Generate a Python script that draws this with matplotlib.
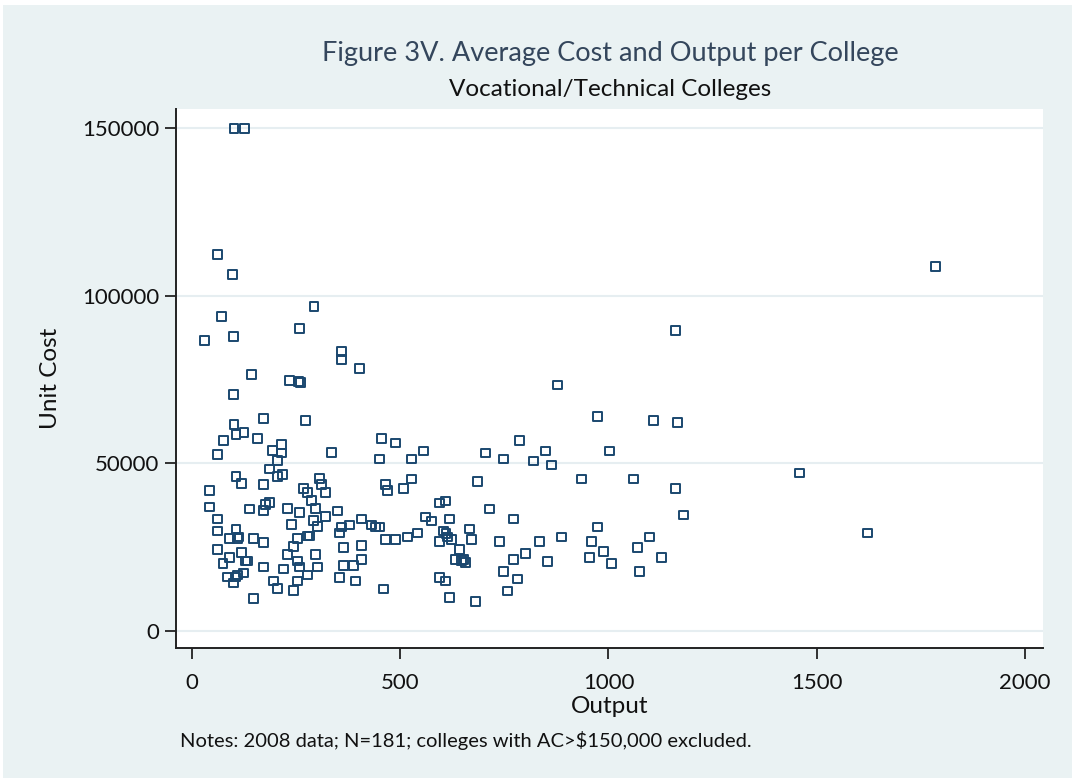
import matplotlib
matplotlib.use("Agg")
import matplotlib.pyplot as plt
from matplotlib.patches import Rectangle

plt.rcParams['font.family'] = ['Lato', 'DejaVu Sans']

# Output (x) and Unit Cost (y) per college
output = [101, 127, 62, 98, 293, 72, 259, 31, 100, 359, 359, 402, 143, 235, 256, 260, 100,
          172, 273, 101, 106, 125, 76, 158, 215, 193, 215, 62, 335, 206, 186, 206, 217, 106,
          119, 172, 42, 42, 62, 62, 62, 75, 90, 106, 90, 110, 113, 138, 172, 177, 186, 230,
          259, 239, 307, 311, 321, 268, 278, 287, 297, 321, 292, 302, 148, 172, 119, 129,
          134, 86, 105, 110, 124, 100, 172, 196, 206, 148, 220, 230, 244, 254, 278, 283,
          254, 259, 278, 297, 302, 254, 244, 350, 359, 378, 354, 364, 354, 364, 388, 393,
          407, 407, 407, 431, 441, 450, 460, 465, 489, 518, 542, 561, 575, 455, 489, 450,
          527, 556, 465, 470, 508, 527, 595, 609, 619, 604, 614, 623, 595, 633, 642, 595,
          609, 619, 787, 705, 748, 849, 820, 863, 935, 686, 714, 772, 666, 671, 738, 834,
          887, 652, 657, 772, 801, 854, 748, 782, 758, 681, 974, 1108, 1166, 1002, 1060,
          1161, 1180, 974, 959, 988, 954, 1007, 1099, 1070, 1127, 1075, 1161, 878, 1785,
          1459, 1622, 610, 648]
unit_cost = [150000, 150000, 112400, 106400, 96800, 93900, 90300, 86700, 87800, 83400, 81000,
             78300, 76500, 74600, 74400, 74100, 70500, 63300, 62800, 61600, 58600, 59200,
             56800, 57400, 55600, 53800, 53100, 52600, 53200, 50800, 48300, 46000, 46600,
             46100, 44100, 43700, 41800, 37000, 33400, 29800, 24400, 20200, 22000, 30400,
             27500, 27500, 28000, 36400, 35900, 37700, 38300, 36500, 35300, 31700, 45400,
             43600, 41200, 42400, 41200, 38900, 36500, 34100, 32900, 31100, 27500, 26300,
             23300, 20900, 20900, 16100, 16100, 16700, 17300, 14300, 19100, 14900, 12600,
             9600, 18500, 22700, 25100, 27700, 28300, 28300, 20900, 19100, 16700, 22700,
             19100, 14900, 12000, 35800, 31000, 31600, 29200, 25000, 16000, 19600, 19600,
             14900, 21400, 25600, 33400, 31600, 31000, 31000, 12500, 27400, 27400, 28000,
             29200, 34000, 32800, 57300, 56100, 51300, 51300, 53700, 43700, 41800, 42400,
             45300, 38200, 38800, 33400, 29800, 28000, 27400, 26800, 21400, 24400, 16000,
             14900, 10100, 56700, 53100, 51300, 53700, 50700, 49500, 45300, 44700, 36400,
             33400, 30400, 27400, 26800, 26800, 28000, 21400, 20400, 21400, 23200, 20800,
             17800, 15500, 11900, 8900, 63900, 62700, 62100, 53700, 45300, 42400, 34600,
             31000, 26800, 23800, 22000, 20200, 28000, 25000, 22000, 17800, 89600, 73400,
             108700, 47100, 29200, 29000, 21000]

x_ticks = [0, 500, 1000, 1500, 2000]
y_ticks = [0, 50000, 100000, 150000]

title = "Figure 3V. Average Cost and Output per College"
subtitle = "Vocational/Technical Colleges"
note = "Notes: 2008 data; N=181; colleges with AC>$150,000 excluded."

bg = "#EAF2F3"
navy = "#1a476f"

fig = plt.figure(figsize=(10.72, 7.78), dpi=100)
fig.patch.set_facecolor("white")
fig.add_artist(Rectangle((3 / 1072, 0), 1, 1 - 5 / 778, transform=fig.transFigure,
                         facecolor=bg, edgecolor="none", zorder=0))

ax = fig.add_axes([176 / 1072, 1 - 648 / 778, (1043 - 176) / 1072, (648 - 109) / 778])
ax.set_facecolor("white")
ax.set_zorder(1)

ax.scatter(output, unit_cost, marker="s", s=40, facecolors="none",
           edgecolors=navy, linewidths=1.4, zorder=3)

ax.set_xlim(-38, 2043)
ax.set_ylim(-5080, 155700)
ax.set_xticks(x_ticks)
ax.set_yticks(y_ticks)
ax.set_xticklabels([str(v) for v in x_ticks])
ax.set_yticklabels([str(v) for v in y_ticks])
ax.tick_params(axis="both", direction="out", length=8, width=1.3, color="#222222",
               labelsize=16, labelcolor="#111111", pad=4)
ax.tick_params(axis="x", pad=10)

ax.grid(axis="y", color="#e6eef1", linewidth=1.5, zorder=0)
ax.set_axisbelow(True)

for side in ["top", "right"]:
    ax.spines[side].set_visible(False)
for side in ["left", "bottom"]:
    ax.spines[side].set_color("#222222")
    ax.spines[side].set_linewidth(1.4)

ax.set_xlabel("Output", fontsize=17.5, color="#111111", labelpad=2)
ax.set_ylabel("Unit Cost", fontsize=17.5, color="#111111", labelpad=15)

fig.text(610 / 1072, 1 - 53 / 778, title, ha="center", va="center",
         fontsize=19.5, color="#34465c")
fig.text(610 / 1072, 1 - 89 / 778, subtitle, ha="center", va="center",
         fontsize=17.5, color="#111111")
fig.text(180 / 1072, 1 - 741 / 778, note, ha="left", va="center",
         fontsize=14.5, color="#111111")

fig.savefig("out.png", dpi=100, facecolor=fig.get_facecolor())
